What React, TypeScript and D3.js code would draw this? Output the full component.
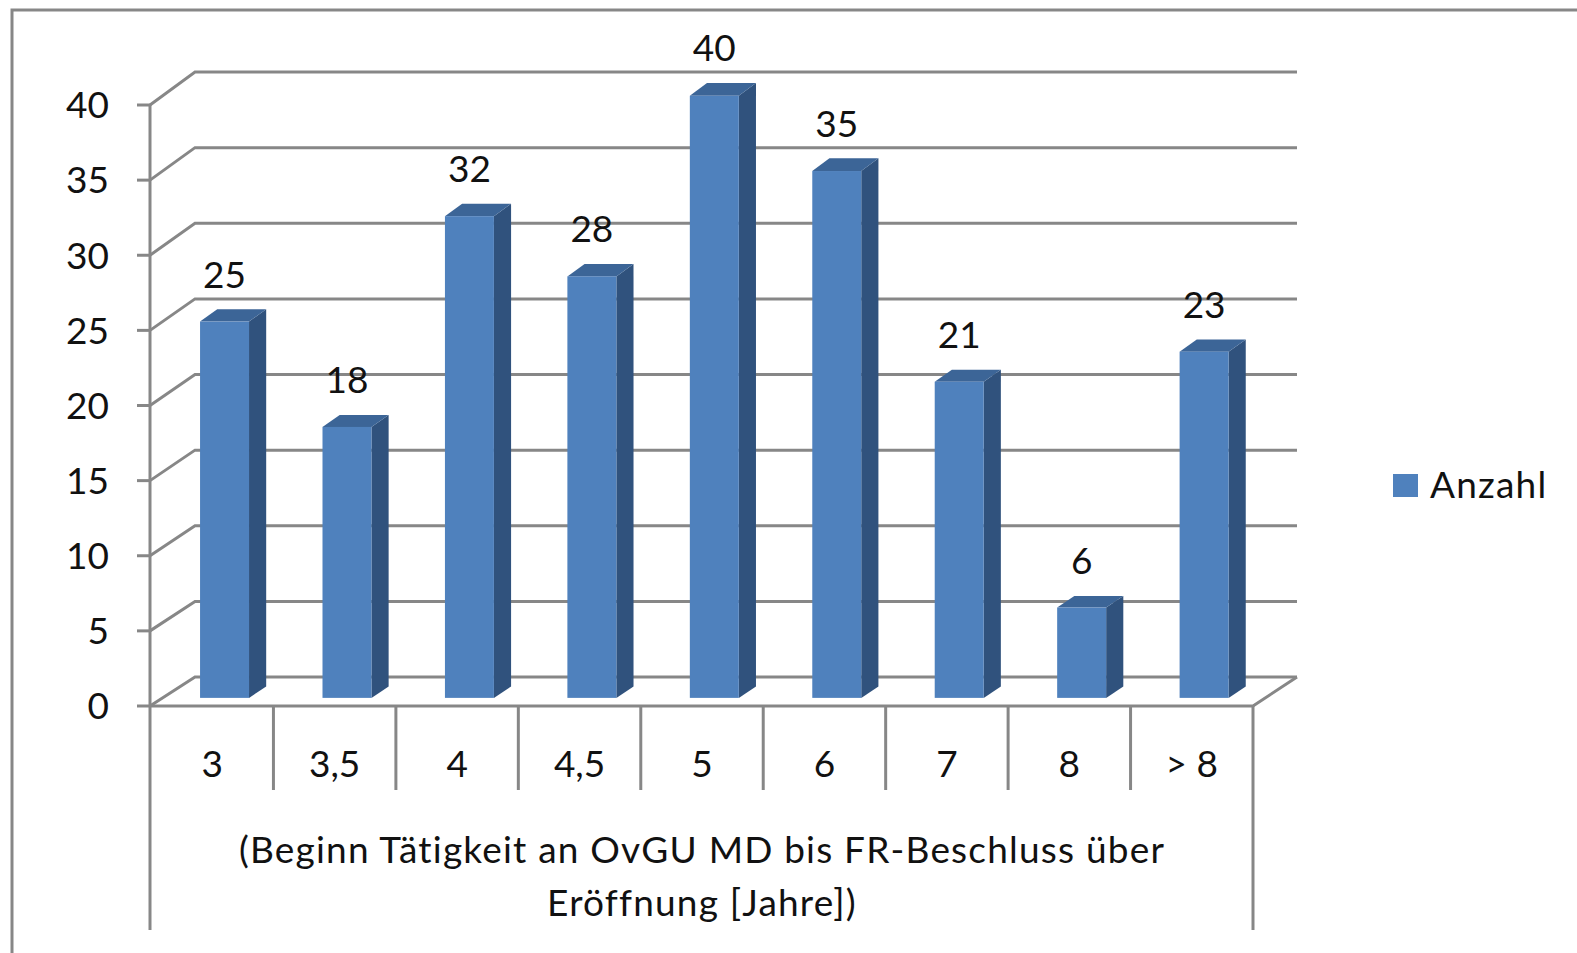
import React from "react";
import * as d3 from "d3";

const categories = ["3", "3,5", "4", "4,5", "5", "6", "7", "8", "> 8"];
const values = [25, 18, 32, 28, 40, 35, 21, 6, 23];
const yTicks = [0, 5, 10, 15, 20, 25, 30, 35, 40];
const seriesName = "Anzahl";
const titleLines = ["(Beginn Tätigkeit an OvGU MD bis FR-Beschluss über", "Eröffnung [Jahre])"];

const W = 1577;
const H = 953;
const font = "Lato, 'Open Sans', sans-serif";

// front plane and back wall of the 3D plot area
const x0 = 151;
const x1 = 1253;
const depthX = 44;
const yFront = d3.scaleLinear().domain([0, 40]).range([706, 105]);
const yBack = d3.scaleLinear().domain([0, 40]).range([677, 72]);
const xBand = d3.scaleBand<string>().domain(categories).range([x0, x1]).paddingInner(0).paddingOuter(0);

// point at depth z (0 = front, 1 = back wall)
const px = (x: number, z: number) => x + z * depthX;
const py = (v: number, z: number) => yFront(v) + z * (yBack(v) - yFront(v));

const App = () => {
  const bw = xBand.bandwidth();
  const barW = bw * 0.4;
  const zf = 0.28;
  const zb = 0.67;
  const grid = "#878787";

  return (
    <svg
      width={W}
      height={H}
      style={{ position: "fixed", left: 0, top: 0, background: "#fff" }}
      fontFamily={font}
    >
      <rect x={12} y={10} width={W} height={H} fill="#fff" stroke={grid} strokeWidth={3} />

      {/* gridlines on back wall */}
      {yTicks.map((t) => (
        <g key={t}>
          <line x1={137} x2={x0 - 1} y1={yFront(t)} y2={yFront(t)} stroke={grid} strokeWidth={3} />
          <polyline
            points={`${x0 - 1},${yFront(t)} ${px(x0, 1)},${yBack(t)} ${px(x1, 1)},${yBack(t)}`}
            fill="none"
            stroke={grid}
            strokeWidth={3}
          />
          <text x={109} y={yFront(t)} dy="0.36em" textAnchor="end" fontSize={37} fill="#111">
            {t}
          </text>
        </g>
      ))}

      {/* floor edges */}
      <polyline
        points={`${x0 - 1},${yFront(0)} ${x1},${yFront(0)} ${px(x1, 1)},${yBack(0)}`}
        fill="none"
        stroke={grid}
        strokeWidth={3}
      />
      <line x1={x0 - 1} x2={x0 - 1} y1={yFront(40)} y2={930} stroke={grid} strokeWidth={3} />
      <line x1={x1} x2={x1} y1={yFront(0)} y2={930} stroke={grid} strokeWidth={3} />
      {categories.slice(1).map((c) => (
        <line key={c} x1={xBand(c)} x2={xBand(c)} y1={yFront(0)} y2={790} stroke={grid} strokeWidth={3} />
      ))}

      {/* bars */}
      {categories.map((c, i) => {
        const v = values[i];
        const l = (xBand(c) as number) + (bw - barW) / 2;
        const r = l + barW;
        const fl = px(l, zf), fr = px(r, zf);
        const bl = px(l, zb), br = px(r, zb);
        const ft = py(v, zf), fb = py(0, zf);
        const bt = py(v, zb), bb = py(0, zb);
        return (
          <g key={c}>
            <polygon points={`${fr},${ft} ${br},${bt} ${br},${bb} ${fr},${fb}`} fill="#30527D" />
            <polygon points={`${fl},${ft} ${bl},${bt} ${br},${bt} ${fr},${ft}`} fill="#3C6597" />
            <rect x={fl} y={ft} width={fr - fl} height={fb - ft} fill="#4F81BD" />
            <text x={(fl + fr) / 2} y={bt - 35} dy="0.36em" textAnchor="middle" fontSize={37} fill="#111">
              {v}
            </text>
            <text x={(xBand(c) as number) + bw / 2} y={764} dy="0.36em" textAnchor="middle" fontSize={37} fill="#111">
              {c}
            </text>
          </g>
        );
      })}

      {/* axis title */}
      {titleLines.map((s, i) => (
        <text
          key={i}
          x={(x0 + x1) / 2}
          y={850 + i * 53}
          dy="0.36em"
          textAnchor="middle"
          fontSize={37}
          letterSpacing={1.2}
          fill="#111"
        >
          {s}
        </text>
      ))}

      {/* legend */}
      <rect x={1393} y={474} width={25} height={23} fill="#4F81BD" />
      <text x={1430} y={485} dy="0.36em" fontSize={37} letterSpacing={1.2} fill="#111">
        {seriesName}
      </text>
    </svg>
  );
};

export default App;
